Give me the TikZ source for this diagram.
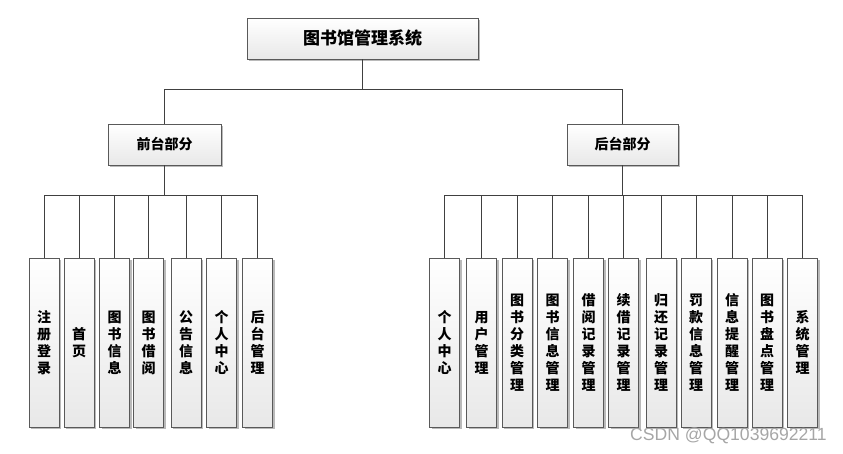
\documentclass[tikz,border=0pt]{standalone}
\usepackage{fontspec}
\newfontfamily\cjk{Noto Sans CJK SC}
\newfontfamily\wmfont{Liberation Sans}
\usetikzlibrary{shadows}
\tikzset{
  box/.style={draw=black!65, line width=0.8pt, top color=white, bottom color=black!9,
    drop shadow={shadow xshift=2pt, shadow yshift=-2pt, fill=black!45, opacity=0.6},
    inner sep=0pt},
  leaf/.style={box, minimum width=30pt, minimum height=169pt, align=center,
    font=\cjk\bfseries\fontsize{14}{17}\selectfont},
  link/.style={draw=black!75, line width=0.8pt},
}
\begin{document}
\begin{tikzpicture}[x=1pt,y=-1pt]
\useasboundingbox (0,0) rectangle (843,454);
\node[box, minimum width=231pt, minimum height=41pt, font=\cjk\bfseries\fontsize{17}{20}\selectfont] (root) at (362.5,38.5) {图书馆管理系统};
\node[box, minimum width=113pt, minimum height=41pt, font=\cjk\bfseries\fontsize{14}{17}\selectfont] (front) at (164.5,144.5) {前台部分};
\node[box, minimum width=111pt, minimum height=41pt, font=\cjk\bfseries\fontsize{14}{17}\selectfont] (back) at (622.5,144.5) {后台部分};
% front leaves
\node[leaf] (l1) at (44,342.5) {注\\册\\登\\录};
\node[leaf] (l2) at (79,342.5) {首\\页};
\node[leaf] (l3) at (114.5,342.5) {图\\书\\信\\息};
\node[leaf] (l4) at (148.5,342.5) {图\\书\\借\\阅};
\node[leaf] (l5) at (186,342.5) {公\\告\\信\\息};
\node[leaf] (l6) at (221.5,342.5) {个\\人\\中\\心};
\node[leaf] (l7) at (257.5,342.5) {后\\台\\管\\理};
% back leaves
\node[leaf] (r1) at (444.5,342.5) {个\\人\\中\\心};
\node[leaf] (r2) at (481.5,342.5) {用\\户\\管\\理};
\node[leaf] (r3) at (517,342.5) {图\\书\\分\\类\\管\\理};
\node[leaf] (r4) at (552.5,342.5) {图\\书\\信\\息\\管\\理};
\node[leaf] (r5) at (588.5,342.5) {借\\阅\\记\\录\\管\\理};
\node[leaf] (r6) at (623.5,342.5) {续\\借\\记\\录\\管\\理};
\node[leaf] (r7) at (661,342.5) {归\\还\\记\\录\\管\\理};
\node[leaf] (r8) at (696,342.5) {罚\\款\\信\\息\\管\\理};
\node[leaf] (r9) at (732,342.5) {信\\息\\提\\醒\\管\\理};
\node[leaf] (r10) at (767,342.5) {图\\书\\盘\\点\\管\\理};
\node[leaf] (r11) at (802.5,342.5) {系\\统\\管\\理};
% connectors
\draw[link] (root.south) -- ++(0,30) -| (front.north);
\draw[link] (root.south) -- ++(0,30) -| (back.north);
\foreach \n in {l1,l2,l3,l4,l5,l6,l7}
  \draw[link] (front.south) -- ++(0,30) -| (\n.north);
\foreach \n in {r1,r2,r3,r4,r5,r6,r7,r8,r9,r10,r11}
  \draw[link] (back.south) -- ++(0,30) -| (\n.north);
\node[font=\wmfont\fontsize{17.6}{17.6}\selectfont, text=black!35, inner sep=0pt] (wm) at (728.5,436) {CSDN @QQ1039692211};
\end{tikzpicture}
\end{document}
